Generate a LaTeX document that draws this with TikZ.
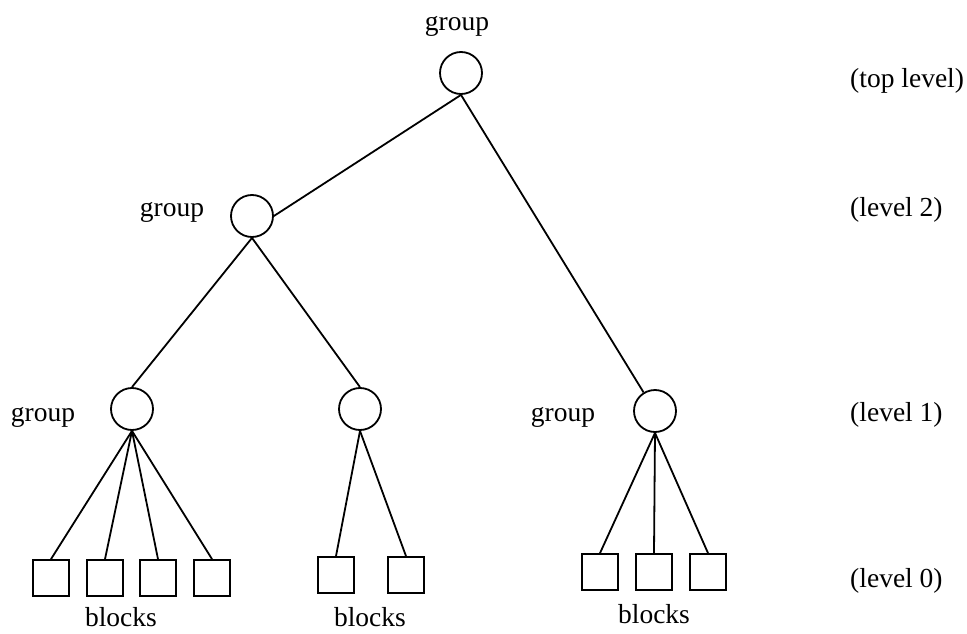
\documentclass[tikz,border=0pt]{standalone}
\usepackage{fontspec}
\setmainfont{Liberation Serif}
\usepackage{tikz}

\begin{document}
\begin{tikzpicture}[x=1pt, y=-1pt, line width=1.8pt,
	every node/.style={font=\fontsize{27.5pt}{33pt}\selectfont},
	grp/.style={circle, draw, minimum size=42pt, inner sep=0pt},
	blk/.style={rectangle, draw, minimum size=36pt, inner sep=0pt},
	lvl/.style={anchor=west}]
	\useasboundingbox (0,0) rectangle (967,634);
	% group nodes
	\node[grp] (top) at (461,73) {};
	\node[grp] (mid) at (252,216) {};
	\node[grp] (ga) at (132,409) {};
	\node[grp] (gb) at (360,409) {};
	\node[grp] (gc) at (655,411) {};
	\draw (top.south) -- (mid.east);
	\draw (top.south) -- (gc);
	\draw (mid.south) -- (ga.north);
	\draw (mid.south) -- (gb.north);
	% blocks
	\foreach \x [count=\i] in {51,105,158,212} {
		\node[blk] (a\i) at (\x,578) {};
		\draw (ga.south) -- (a\i.north);
	}
	\foreach \x [count=\i] in {336,406} {
		\node[blk] (b\i) at (\x,575) {};
		\draw (gb.south) -- (b\i.north);
	}
	\foreach \x [count=\i] in {600,654,708} {
		\node[blk] (c\i) at (\x,572) {};
		\draw (gc.south) -- (c\i.north);
	}
	% labels
	\node (ltop) at (457,26) {group};
	\node (lmid) at (172,212) {group};
	\node (lga) at (43,417) {group};
	\node (lgc) at (563,417) {group};
	\node[inner sep=1pt] (la) at (121,617) {blocks};
	\node[inner sep=1pt] (lb) at (370,617) {blocks};
	\node[inner sep=1pt] (lc) at (654,614) {blocks};
	\node[lvl] (v3) at (846,81) {(top level)};
	\node[lvl] (v2) at (846,210) {(level 2)};
	\node[lvl] (v1) at (846,415) {(level 1)};
	\node[lvl] (v0) at (846,581) {(level 0)};
\end{tikzpicture}
\end{document}
